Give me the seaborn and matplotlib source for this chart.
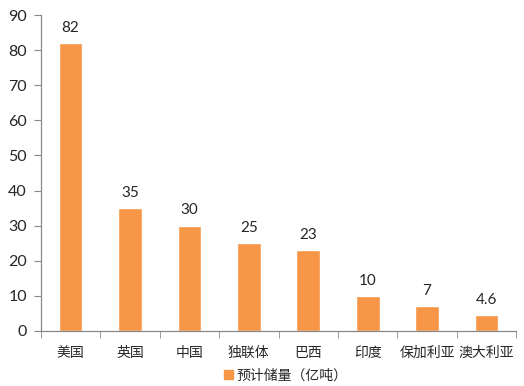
import matplotlib
matplotlib.use("Agg")
import matplotlib.pyplot as plt
import seaborn as sns
import pandas as pd
from matplotlib.patches import Patch

categories = ["美国", "英国", "中国", "独联体", "巴西", "印度", "保加利亚", "澳大利亚"]
values = [82, 35, 30, 25, 23, 10, 7, 4.6]
value_labels = ["82", "35", "30", "25", "23", "10", "7", "4.6"]
series_name = "预计储量（亿吨）"
yticks = [0, 10, 20, 30, 40, 50, 60, 70, 80, 90]

sns.set_style("white")
plt.rcParams['font.family'] = ['Lato', 'Noto Sans CJK SC', 'DejaVu Sans']

df = pd.DataFrame({"cat": categories, "val": values})
color = "#F79646"

fig = plt.figure(figsize=(5.24, 3.86), dpi=100)
ax = fig.add_axes([0.078, 0.1425, 0.907, 0.8185])
sns.barplot(data=df, x="cat", y="val", color=color, width=0.4, ax=ax, saturation=1)

ax.set_ylim(0, 90)
ax.set_xlim(-0.5, len(categories) - 0.5)
ax.set_yticks(yticks)
ax.set_yticklabels([str(t) for t in yticks], fontsize=11.5, family=['Lato', 'DejaVu Sans'])
ax.set_xticks(range(len(categories)))
ax.set_xticklabels(categories, fontsize=10, family=['Noto Sans CJK SC', 'DejaVu Sans'])
ax.set_xlabel("")
ax.set_ylabel("")

ax.set_xticks([i - 0.5 for i in range(len(categories) + 1)], minor=True)
ax.tick_params(axis='x', which='major', length=0, pad=11)
ax.tick_params(axis='x', which='minor', length=5, color='#888888', direction='out', bottom=True)
ax.tick_params(axis='y', which='major', length=5, color='#888888', direction='out', left=True, pad=5)

for s in ["top", "right"]:
    ax.spines[s].set_visible(False)
for s in ["left", "bottom"]:
    ax.spines[s].set_color("#888888")
    ax.spines[s].set_linewidth(0.9)

ax.bar_label(ax.containers[0], labels=value_labels, padding=6, fontsize=11,
             family=['Lato', 'DejaVu Sans'])

handle = Patch(facecolor=color, edgecolor=color)
fig.legend([handle], [series_name], loc='center', bbox_to_anchor=(0.545, 0.027),
           frameon=False, handlelength=0.65, handleheight=0.65,
           handletextpad=0.2, prop={'family': ['Noto Sans CJK SC', 'DejaVu Sans'], 'size': 10})

fig.savefig("out.png", dpi=100)
